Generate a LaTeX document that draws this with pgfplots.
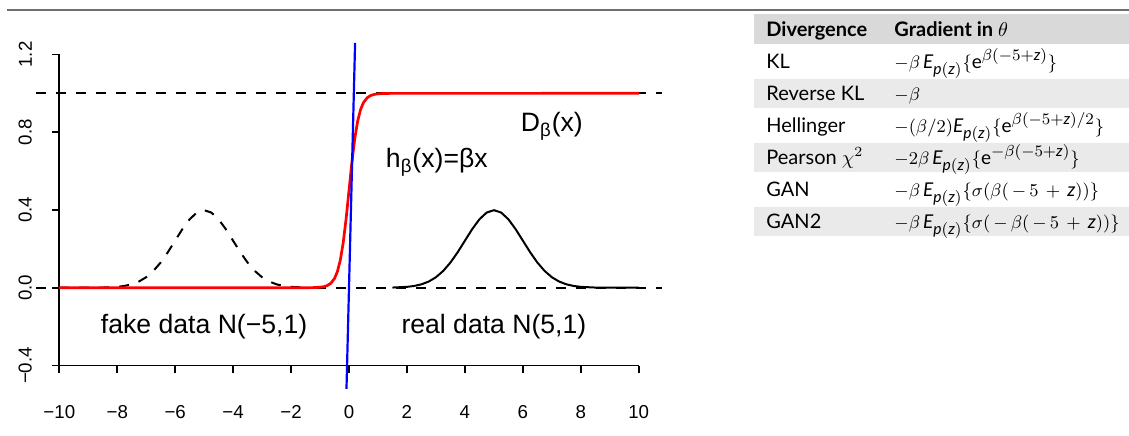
\documentclass[border=0pt]{standalone}
\usepackage{pgfplots}
\pgfplotsset{compat=1.18}
\usepackage{fontspec}
\setmainfont{Lato}
\newfontfamily\rfont{Liberation Sans}
\DeclareMathSizes{9.5}{9.5}{7.8}{6.5}
\definecolor{hdrgray}{RGB}{217,217,217}
\definecolor{rowgray}{RGB}{234,234,234}
\definecolor{rulegray}{RGB}{110,110,110}

% fake N(-5,1) and real N(5,1) densities, logistic D(x) with beta = 6
\pgfplotstableread{
x y
-10 0
-9 0.00013
-8.5 0.00087
-8 0.00443
-7.75 0.00909
-7.5 0.01753
-7.25 0.03174
-7 0.05399
-6.75 0.08628
-6.5 0.12952
-6.25 0.18265
-6 0.24197
-5.75 0.30114
-5.5 0.35207
-5.25 0.38667
-5 0.39894
-4.75 0.38667
-4.5 0.35207
-4.25 0.30114
-4 0.24197
-3.75 0.18265
-3.5 0.12952
-3.25 0.08628
-3 0.05399
-2.75 0.03174
-2.5 0.01753
-2.25 0.00909
-2 0.00443
-1.5 0.00087
}\fake
\pgfplotstableread{
x y
1.5 0.00087
2 0.00443
2.25 0.00909
2.5 0.01753
2.75 0.03174
3 0.05399
3.25 0.08628
3.5 0.12952
3.75 0.18265
4 0.24197
4.25 0.30114
4.5 0.35207
4.75 0.38667
5 0.39894
5.25 0.38667
5.5 0.35207
5.75 0.30114
6 0.24197
6.25 0.18265
6.5 0.12952
6.75 0.08628
7 0.05399
7.25 0.03174
7.5 0.01753
7.75 0.00909
8 0.00443
8.5 0.00087
9 0.00013
10 0
}\real
\pgfplotstableread{
x y
-10 0
-1.5 0.00012
-1.25 0.00055
-1 0.00247
-0.875 0.00522
-0.75 0.01099
-0.625 0.02298
-0.5 0.04743
-0.4 0.08317
-0.3 0.14185
-0.2 0.23148
-0.1 0.35434
0 0.5
0.1 0.64566
0.2 0.76852
0.3 0.85815
0.4 0.91683
0.5 0.95257
0.625 0.97702
0.75 0.98901
0.875 0.99478
1 0.99753
1.25 0.99945
1.5 0.99988
10 1
}\dsig

\begin{document}
\begin{tikzpicture}
\path[use as bounding box] (0,0) rectangle (564.5pt,217.5pt);
\draw[rulegray, line width=1pt] (3.5pt,212.5pt) -- (564.5pt,212.5pt);

% axes frame and ticks
\begin{axis}[
  at={(29.65pt,34.75pt)}, anchor=south west,
  scale only axis, width=289.7pt, height=155.55pt,
  xmin=-10, xmax=10, ymin=-0.4, ymax=1.2,
  axis x line=bottom, axis y line=left,
  axis line style={-, line width=0.9pt},
  xtick={-10,-8,-6,-4,-2,0,2,4,6,8,10},
  ytick={-0.4,0,0.4,0.8,1.2},
  xticklabels={−10,−8,−6,−4,−2,0,2,4,6,8,10},
  yticklabels={−0.4,0.0,0.4,0.8,1.2},
  tick align=outside, major tick length=3.5pt,
  tick style={black, line width=0.9pt},
  ticklabel style={font=\rfont\fontsize{9.35}{11}\selectfont},
  xticklabel style={anchor=base, yshift=-23pt},
  yticklabel style={anchor=center, xshift=-13.5pt, rotate=90},
]
\end{axis}

% curves
\begin{axis}[
  at={(18pt,23.1pt)}, anchor=south west,
  scale only axis, width=313pt, height=173pt,
  xmin=-10.8, xmax=10.8, ymin=-0.52, ymax=1.26,
  hide axis, clip=true,
]
\addplot[black, line width=1pt, dash pattern=on 5pt off 5pt] coordinates {(-10.8,0) (10.8,0)};
\addplot[black, line width=1pt, dash pattern=on 5pt off 5pt] coordinates {(-10.8,1) (10.8,1)};
\addplot[black, line width=1pt, dash pattern=on 5pt off 5pt] table[x=x,y=y] {\fake};
\addplot[black, line width=1pt] table[x=x,y=y] {\real};
\addplot[red, line width=1.35pt] table[x=x,y=y] {\dsig};
\addplot[blue, line width=1.1pt] coordinates {(-0.0867,-0.52) (0.21,1.26)};
\node[font=\rfont\fontsize{13.3}{15}\selectfont] at (axis cs:7.0,0.83) {D\textsubscript{β}(x)};
\node[font=\rfont\fontsize{13.3}{15}\selectfont] at (axis cs:3.03,0.645) {h\textsubscript{β}(x)=βx};
\node[font=\rfont\fontsize{13.3}{15}\selectfont] at (axis cs:-5,-0.2) {fake data N(−5,1)};
\node[font=\rfont\fontsize{13.3}{15}\selectfont] at (axis cs:5,-0.2) {real data N(5,1)};
\end{axis}

% table
\fill[hdrgray] (377pt,210.25pt) rectangle (564.5pt,195.75pt);
\fill[rowgray] (377pt,178.25pt) rectangle (564.5pt,163.75pt);
\fill[rowgray] (377pt,146.25pt) rectangle (564.5pt,131.75pt);
\fill[rowgray] (377pt,114.25pt) rectangle (564.5pt,99.75pt);
\begin{scope}[every node/.style={anchor=base west, inner sep=0pt, font=\fontsize{10}{12}\selectfont}]
\node at (383pt,199.4pt) {\textbf{Divergence}};
\node at (447pt,199.4pt) {\textbf{Gradient in $\theta$}};
\node at (383pt,183.4pt) {KL};
\node at (383pt,167.4pt) {Reverse KL};
\node at (383pt,151.4pt) {Hellinger};
\node at (383pt,135.4pt) {Pearson $\chi^2$};
\node at (383pt,119.4pt) {GAN};
\node at (383pt,103.4pt) {GAN2};
\end{scope}
\begin{scope}[every node/.style={anchor=base west, inner sep=0pt, font=\fontsize{9.5}{11}\selectfont}]
\node at (447pt,183.4pt) {$-\beta\,\mathit{E}_{\mathit{p(z)}}\{\mathrm{e}^{\beta(-5+\mathit{z})}\}$};
\node at (447pt,167.4pt) {$-\beta$};
\node at (447pt,151.4pt) {$-(\beta/2)\mathit{E}_{\mathit{p(z)}}\{\mathrm{e}^{\beta(-5+\mathit{z})/2}\}$};
\node at (447pt,135.4pt) {$-2\beta\,\mathit{E}_{\mathit{p(z)}}\{\mathrm{e}^{-\beta(-5+\mathit{z})}\}$};
\node at (447pt,119.4pt) {$-\beta\,\mathit{E}_{\mathit{p(z)}}\{\sigma(\beta(\,-\,5\,+\,\mathit{z}))\}$};
\node at (447pt,103.4pt) {$-\beta\,\mathit{E}_{\mathit{p(z)}}\{\sigma(\,-\,\beta(\,-\,5\,+\,\mathit{z}))\}$};
\end{scope}
\end{tikzpicture}
\end{document}
